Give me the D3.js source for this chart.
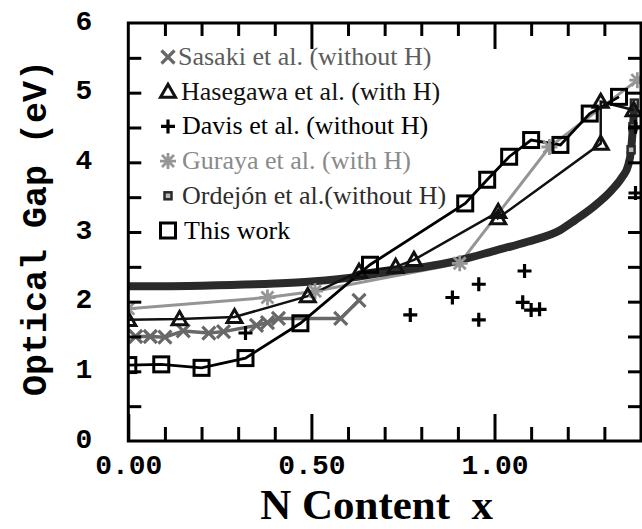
<!DOCTYPE html>
<html>
<head>
<meta charset="utf-8">
<script src="https://cdn.jsdelivr.net/npm/d3@7"></script>
<style>
html,body{margin:0;padding:0;background:#fff;}
svg{display:block;}
</style>
</head>
<body>
<svg id="chart" width="642" height="529"></svg>
<script>
// ---- data ----
const sasakiX = [0.02, 0.06, 0.10, 0.15, 0.22, 0.26, 0.35, 0.38, 0.41, 0.58, 0.63];
const sasakiY = [1.50, 1.50, 1.49, 1.58, 1.55, 1.57, 1.66, 1.70, 1.76, 1.76, 2.02];

const hasegawaX = [0.00, 0.14, 0.29, 0.49, 0.63, 0.73, 0.78, 1.01, 1.01, 1.29, 1.29, 1.38];
const hasegawaY = [1.74, 1.75, 1.78, 2.08, 2.43, 2.50, 2.60, 3.29, 3.20, 4.27, 4.87, 4.75];

const davisX = [0.32, 0.77, 0.885, 0.957, 0.957, 1.082, 1.077, 1.10, 1.123, 1.385, 1.385];
const davisY = [1.55, 1.81, 2.06, 2.25, 1.74, 2.44, 1.99, 1.88, 1.89, 3.56, 4.51];

const gurayaX = [0.00, 0.38, 0.51, 0.905, 1.15, 1.39];
const gurayaY = [1.90, 2.06, 2.15, 2.55, 4.22, 5.18];

const ordejonX = [0.00, 0.20, 0.40, 0.50, 0.63, 0.71, 0.80, 0.90, 1.00, 1.09, 1.18, 1.22, 1.27, 1.32, 1.35, 1.364, 1.373, 1.378, 1.382];
const ordejonY = [2.22, 2.23, 2.26, 2.29, 2.36, 2.43, 2.49, 2.59, 2.73, 2.86, 3.03, 3.17, 3.36, 3.60, 3.80, 3.94, 4.18, 4.51, 4.85];

const thisWorkX = [0.00, 0.09, 0.20, 0.32, 0.47, 0.66, 0.92, 0.98, 1.04, 1.10, 1.18, 1.26, 1.34];
const thisWorkY = [1.09, 1.10, 1.05, 1.19, 1.69, 2.53, 3.41, 3.75, 4.08, 4.32, 4.25, 4.70, 4.94];

const xMajorTicks = [0, 0.5, 1.0];
const xMinorTicks = [0.1, 0.2, 0.3, 0.4, 0.6, 0.7, 0.8, 0.9, 1.1, 1.2, 1.3];
const yTicks = [0, 1, 2, 3, 4, 5, 6];
const yMinorTicks = [0.5, 1, 1.5, 2, 2.5, 3, 3.5, 4, 4.5, 5, 5.5];

const legendLabels = ["Sasaki et al. (without H)", "Hasegawa et al. (with H)", "Davis et al. (without H)",
                      "Guraya et al. (with H)", "Ordejón et al.(without H)", "This work"];
const xTitle = "N Content\u00a0 x";
const yTitle = "Optical Gap (eV)";

// ---- layout ----
const svg = d3.select("#chart");
const pL = 128.3, pR = 641, pT = 23, pB = 441;
const x = d3.scaleLinear().domain([0, 1.4]).range([pL, pR]);
const y = d3.scaleLinear().domain([0, 6]).range([pB, pT]);

const zip = (a, b) => a.map((v, i) => [v, b[i]]);

svg.append("defs").append("clipPath").attr("id", "plotclip")
  .append("rect").attr("x", pL).attr("y", pT).attr("width", pR - pL).attr("height", pB - pT);

const plot = svg.append("g").attr("clip-path", "url(#plotclip)");

const line = d3.line().x(d => x(d[0])).y(d => y(d[1]));

// marker shapes
function drawMarker(g, type, cx, cy, color) {
  if (type === "square") {
    g.append("rect").attr("x", cx - 7.5).attr("y", cy - 7.5).attr("width", 15).attr("height", 15)
      .attr("fill", "none").attr("stroke", color).attr("stroke-width", 3);
  } else if (type === "triangle") {
    const s = 7.5;
    g.append("path").attr("d", `M${cx},${cy - s}L${cx + s},${cy + s * 0.75}L${cx - s},${cy + s * 0.75}Z`)
      .attr("fill", "none").attr("stroke", color).attr("stroke-width", 3).attr("stroke-linejoin", "miter");
  } else if (type === "cross") {
    const s = 6.5;
    g.append("path").attr("d", `M${cx - s},${cy - s}L${cx + s},${cy + s}M${cx - s},${cy + s}L${cx + s},${cy - s}`)
      .attr("stroke", color).attr("stroke-width", 3.2).attr("fill", "none");
  } else if (type === "plus") {
    const s = 7;
    g.append("path").attr("d", `M${cx - s},${cy}L${cx + s},${cy}M${cx},${cy - s}L${cx},${cy + s}`)
      .attr("stroke", color).attr("stroke-width", 3.2).attr("fill", "none");
  } else if (type === "star") {
    const s = 8, d = 6;
    g.append("path").attr("d", `M${cx - s},${cy}L${cx + s},${cy}M${cx},${cy - s}L${cx},${cy + s}M${cx - d},${cy - d}L${cx + d},${cy + d}M${cx - d},${cy + d}L${cx + d},${cy - d}`)
      .attr("stroke", color).attr("stroke-width", 2.8).attr("fill", "none");
  } else if (type === "smallsq") {
    g.append("rect").attr("x", cx - 3.5).attr("y", cy - 3.5).attr("width", 7).attr("height", 7)
      .attr("fill", "#bbb").attr("stroke", color).attr("stroke-width", 2.5);
  }
}

const C_SASAKI = "#686868", C_GURAYA = "#959595", C_ORD = "#2a2a2a";

// Guraya
plot.append("path").datum(zip(gurayaX, gurayaY)).attr("d", line)
  .attr("fill", "none").attr("stroke", C_GURAYA).attr("stroke-width", 3);
// Sasaki
plot.append("path").datum(zip(sasakiX, sasakiY)).attr("d", line)
  .attr("fill", "none").attr("stroke", C_SASAKI).attr("stroke-width", 3.5);
// Ordejon thick curve
plot.append("path").datum(zip(ordejonX, ordejonY))
  .attr("d", d3.line().x(d => x(d[0])).y(d => y(d[1])).curve(d3.curveMonotoneX))
  .attr("fill", "none").attr("stroke", C_ORD).attr("stroke-width", 8).attr("stroke-linecap", "butt");
// Hasegawa
plot.append("path").datum(zip(hasegawaX, hasegawaY)).attr("d", line)
  .attr("fill", "none").attr("stroke", "#111").attr("stroke-width", 2.5);
// This work
plot.append("path").datum(zip(thisWorkX, thisWorkY)).attr("d", line)
  .attr("fill", "none").attr("stroke", "#000").attr("stroke-width", 2.8);

const mk = plot.append("g");
gurayaX.forEach((v, i) => drawMarker(mk, "star", x(v), y(gurayaY[i]), C_GURAYA));
sasakiX.forEach((v, i) => drawMarker(mk, "cross", x(v), y(sasakiY[i]), C_SASAKI));
ordejonX.forEach((v, i) => { if (ordejonY[i] > 4) drawMarker(mk, "smallsq", x(v), y(ordejonY[i]), C_ORD); });
hasegawaX.forEach((v, i) => drawMarker(mk, "triangle", x(v), y(hasegawaY[i]), "#111"));
thisWorkX.forEach((v, i) => drawMarker(mk, "square", x(v), y(thisWorkY[i]), "#000"));
davisX.forEach((v, i) => drawMarker(mk, "plus", x(v), y(davisY[i]), "#000"));

// ---- axes ----
const tickFont = "'Liberation Mono', 'Courier New', monospace";
function styleAxis(g) {
  g.select(".domain").remove();
  g.selectAll(".tick line").attr("stroke", "#000").attr("stroke-width", 3);
}
// bottom
svg.append("g").attr("transform", `translate(0,${pB})`)
  .call(d3.axisBottom(x).tickValues(xMinorTicks).tickSize(-14).tickFormat(""))
  .call(styleAxis);
svg.append("g").attr("transform", `translate(0,${pB})`)
  .call(d3.axisBottom(x).tickValues(xMajorTicks).tickSize(-27).tickPadding(12).tickFormat(d3.format(".2f")))
  .call(styleAxis)
  .call(g => g.selectAll("text").attr("font-family", tickFont).attr("font-weight", "bold")
    .attr("font-size", 28).attr("fill", "#000").attr("dy", "0.75em"));
// top
svg.append("g").attr("transform", `translate(0,${pT})`)
  .call(d3.axisTop(x).tickValues(xMinorTicks).tickSize(-13).tickFormat(""))
  .call(styleAxis);
svg.append("g").attr("transform", `translate(0,${pT})`)
  .call(d3.axisTop(x).tickValues(xMajorTicks.filter(d => d > 0)).tickSize(-26).tickFormat(""))
  .call(styleAxis);
// left
svg.append("g").attr("transform", `translate(${pL},0)`)
  .call(d3.axisLeft(y).tickValues(yMinorTicks).tickSize(-13).tickFormat(""))
  .call(styleAxis);
svg.append("g").attr("transform", `translate(${pL},0)`)
  .call(d3.axisLeft(y).tickValues(yTicks).tickSize(0).tickPadding(36).tickFormat(d3.format("d")))
  .call(styleAxis)
  .call(g => g.selectAll("text").attr("font-family", tickFont).attr("font-weight", "bold")
    .attr("font-size", 28).attr("fill", "#000").attr("dy", "0.22em"));
// right
svg.append("g").attr("transform", `translate(${pR},0)`)
  .call(d3.axisRight(y).tickValues(yMinorTicks).tickSize(-13).tickFormat(""))
  .call(styleAxis);

// frame
svg.append("rect").attr("x", pL).attr("y", pT).attr("width", pR - pL).attr("height", pB - pT)
  .attr("fill", "none").attr("stroke", "#000").attr("stroke-width", 3);

// titles
svg.append("text").attr("x", (pL + pR) / 2 - 8).attr("y", 519).attr("text-anchor", "middle")
  .attr("font-family", "'Liberation Serif', 'Times New Roman', serif").attr("font-weight", "bold")
  .attr("font-size", 43).text(xTitle);
svg.append("text").attr("transform", "translate(46,228) rotate(-90)").attr("text-anchor", "middle")
  .attr("font-family", tickFont).attr("font-weight", "bold").attr("font-size", 35).text(yTitle);

// ---- legend ----
const legendTypes = ["cross", "triangle", "plus", "star", "smallsq", "square"];
const legendSymColors = [C_SASAKI, "#111", "#000", C_GURAYA, C_ORD, "#000"];
const legendTextColors = ["#5c5c5c", "#111", "#000", "#8a8a8a", "#2e2e2e", "#000"];
const legendTextX = [178, 181, 182, 182, 182, 184];
const lg = svg.append("g");
legendLabels.forEach((t, i) => {
  const by = 65 + i * 34.7;
  drawMarker(lg, legendTypes[i], 168, by - 8, legendSymColors[i]);
  lg.append("text").attr("x", legendTextX[i]).attr("y", by)
    .attr("font-family", "'Liberation Serif', 'Times New Roman', serif").attr("font-size", 26)
    .attr("fill", legendTextColors[i]).text(t);
});
</script>
</body>
</html>
